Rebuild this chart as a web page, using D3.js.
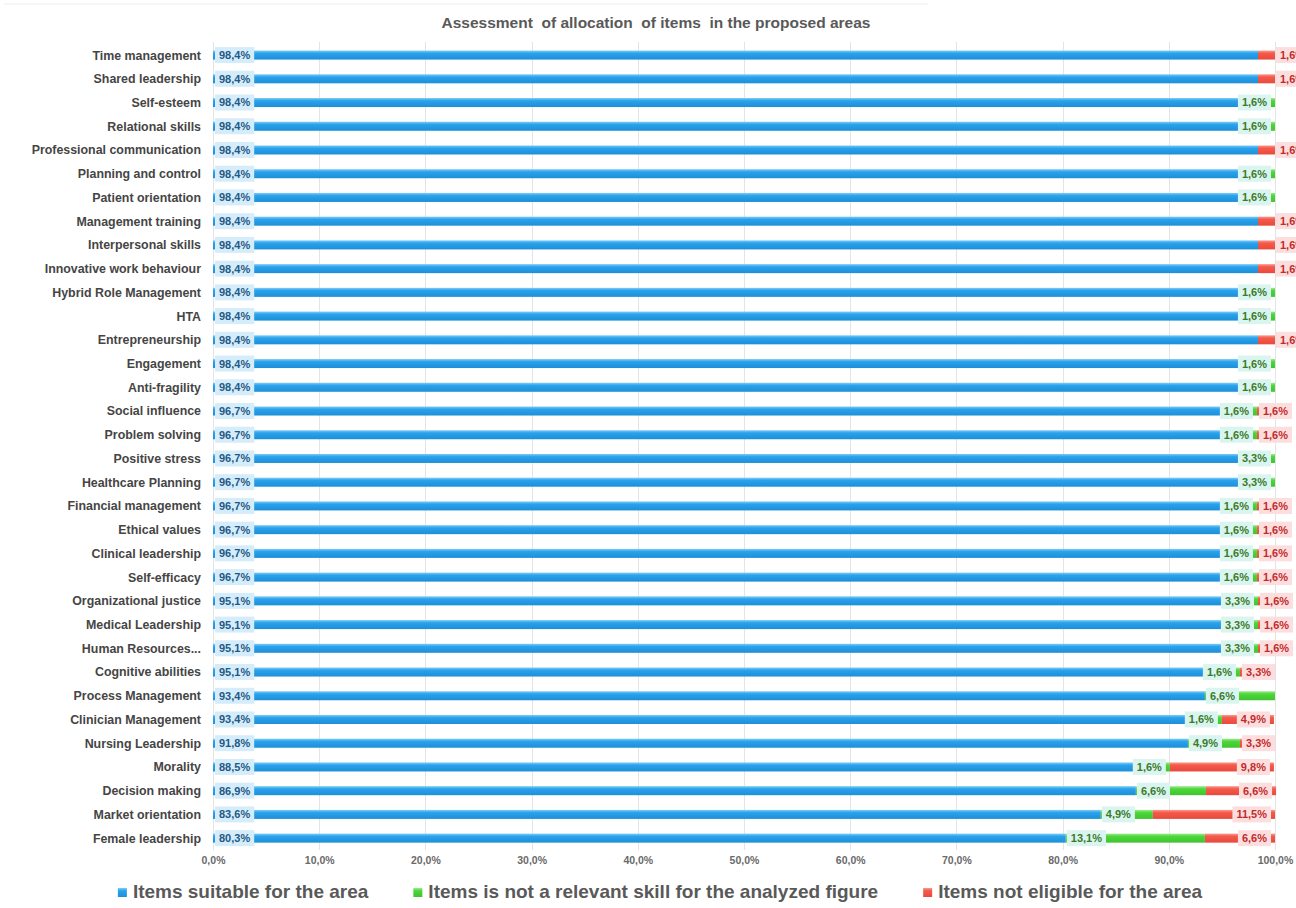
<!DOCTYPE html>
<html>
<head>
<meta charset="utf-8">
<script src="https://cdn.jsdelivr.net/npm/d3@7"></script>
<style>
  html, body { margin: 0; padding: 0; background: #ffffff; }
  svg { display: block; font-family: "Liberation Sans", Arial, sans-serif; }
</style>
</head>
<body>
<svg id="chart" width="1296" height="908"></svg>
<script>
// Areas, listed top to bottom
const categories = [
  "Time management", "Shared leadership", "Self-esteem", "Relational skills",
  "Professional communication", "Planning and control", "Patient orientation",
  "Management training", "Interpersonal skills", "Innovative work behaviour",
  "Hybrid Role Management", "HTA", "Entrepreneurship", "Engagement",
  "Anti-fragility", "Social influence", "Problem solving", "Positive stress",
  "Healthcare Planning", "Financial management", "Ethical values",
  "Clinical leadership", "Self-efficacy", "Organizational justice",
  "Medical Leadership", "Human Resources...", "Cognitive abilities",
  "Process Management", "Clinician Management", "Nursing Leadership",
  "Morality", "Decision making", "Market orientation", "Female leadership"
];

// Share of items (%) per area
const suitable = [
  98.4, 98.4, 98.4, 98.4, 98.4, 98.4, 98.4, 98.4, 98.4, 98.4, 98.4, 98.4, 98.4, 98.4, 98.4,
  96.7, 96.7, 96.7, 96.7, 96.7, 96.7, 96.7, 96.7,
  95.1, 95.1, 95.1, 95.1,
  93.4, 93.4, 91.8, 88.5, 86.9, 83.6, 80.3
];
const notRelevant = [
  0, 0, 1.6, 1.6, 0, 1.6, 1.6, 0, 0, 0, 1.6, 1.6, 0, 1.6, 1.6,
  1.6, 1.6, 3.3, 3.3, 1.6, 1.6, 1.6, 1.6,
  3.3, 3.3, 3.3, 1.6,
  6.6, 1.6, 4.9, 1.6, 6.6, 4.9, 13.1
];
const notEligible = [
  1.6, 1.6, 0, 0, 1.6, 0, 0, 1.6, 1.6, 1.6, 0, 0, 1.6, 0, 0,
  1.6, 1.6, 0, 0, 1.6, 1.6, 1.6, 1.6,
  1.6, 1.6, 1.6, 3.3,
  0, 4.9, 3.3, 9.8, 6.6, 11.5, 6.6
];

const seriesNames = [
  "Items suitable for the area",
  "Items is not a relevant skill for the analyzed figure",
  "Items not eligible for the area"
];
const tickValues = [0, 10, 20, 30, 40, 50, 60, 70, 80, 90, 100];
const chartTitle = "Assessment  of allocation  of items  in the proposed areas";

const keys = ["suitable", "notRelevant", "notEligible"];
const rows = categories.map((c, i) => ({
  category: c,
  suitable: suitable[i],
  notRelevant: notRelevant[i],
  notEligible: notEligible[i]
}));

// Styling per series
const style = {
  suitable:    { top: "#7fcdf7", mid: "#2aa2ec", bot: "#1d8fd8", labelBg: "#d5ecfa", labelFg: "#1f5a86" },
  notRelevant: { top: "#9ced8e", mid: "#4fd63c", bot: "#3fc42d", labelBg: "#daf5ef", labelFg: "#3a7b2b" },
  notEligible: { top: "#fb9a90", mid: "#f45a4b", bot: "#e84a3c", labelBg: "#fcdede", labelFg: "#c42a2c" }
};

const svg = d3.select("#chart");
const width = 1296, height = 908;

const x = d3.scaleLinear().domain([0, 100]).range([213, 1275]);
const y = d3.scaleBand().domain(categories).range([43.2, 850])
  .paddingInner(0.62).paddingOuter(0.31);

const locale = d3.formatLocale({ decimal: ",", thousands: ".", grouping: [3], currency: ["", "€"] });
const fmt1 = locale.format(".1f");
const pct = v => fmt1(v) + "%";

// Gradients giving the bars a light top edge
const defs = svg.append("defs");
keys.forEach(k => {
  const g = defs.append("linearGradient").attr("id", "grad-" + k)
    .attr("x1", 0).attr("y1", 0).attr("x2", 0).attr("y2", 1);
  g.append("stop").attr("offset", "0%").attr("stop-color", style[k].top);
  g.append("stop").attr("offset", "30%").attr("stop-color", style[k].mid);
  g.append("stop").attr("offset", "100%").attr("stop-color", style[k].bot);
});

// Faint frame line at the top
svg.append("line").attr("x1", 4).attr("x2", 928).attr("y1", 4).attr("y2", 4)
  .attr("stroke", "#ededed").attr("stroke-width", 1);

// Title
svg.append("text")
  .attr("x", 656).attr("y", 28)
  .attr("text-anchor", "middle")
  .attr("font-size", 15.5).attr("font-weight", "bold")
  .attr("fill", "#595959")
  .style("white-space", "pre")
  .text(chartTitle);

// Vertical gridlines
svg.append("g").selectAll("line").data(tickValues).join("line")
  .attr("x1", d => Math.round(x(d)) + 0.5).attr("x2", d => Math.round(x(d)) + 0.5)
  .attr("y1", 42).attr("y2", 850)
  .attr("stroke", "#e4e4e4").attr("stroke-width", 1);

// Bottom axis tick labels
const xAxis = d3.axisBottom(x).tickValues(tickValues).tickFormat(pct).tickSize(0).tickPadding(0);
const axisG = svg.append("g").attr("transform", "translate(0,857)").call(xAxis);
axisG.select(".domain").remove();
axisG.selectAll("text")
  .attr("font-size", 10.5).attr("font-weight", "bold")
  .attr("font-family", "Liberation Sans, Arial, sans-serif")
  .attr("fill", "#6a6a6a");

// Category labels
const yAxis = d3.axisLeft(y).tickSize(0).tickPadding(0);
const yAxisG = svg.append("g").attr("transform", "translate(201,0)").call(yAxis);
yAxisG.select(".domain").remove();
yAxisG.selectAll("text")
  .attr("font-size", 12.4).attr("font-weight", "bold")
  .attr("font-family", "Liberation Sans, Arial, sans-serif")
  .attr("fill", "#454545")
  .attr("dy", "0.36em");

// Stacked bars
const stacked = d3.stack().keys(keys)(rows);
const barsG = svg.append("g");
stacked.forEach(layer => {
  barsG.append("g").selectAll("rect").data(layer).join("rect")
    .attr("x", d => x(d[0]))
    .attr("y", d => y(d.data.category))
    .attr("width", d => Math.max(0, x(d[1]) - x(d[0])))
    .attr("height", y.bandwidth())
    .attr("fill", "url(#grad-" + layer.key + ")");
});

// Data labels with filled boxes
const labelsG = svg.append("g");
const boxH = 16;
stacked.forEach(layer => {
  const k = layer.key;
  layer.forEach(d => {
    const v = d.data[k];
    if (!(v > 0)) return;
    const cy = y(d.data.category) + y.bandwidth() / 2;
    const g = labelsG.append("g");
    const rect = g.append("rect").attr("fill", style[k].labelBg);
    const t = g.append("text")
      .attr("font-size", 11).attr("font-weight", "bold")
      .attr("fill", style[k].labelFg)
      .attr("dy", "0.36em")
      .text(pct(v));
    const tw = t.node().getComputedTextLength();
    const w = tw + 8;
    const s = x(d[0]), e = x(d[1]), segW = e - s;
    let bx;
    if (k === "suitable") {
      bx = s + 2;
    } else if (k === "notRelevant") {
      bx = segW >= w + 2 ? s + 1 : e - w - 4;
    } else {
      if (segW >= w + 6) bx = e - w - 4;
      else if (d.data.notRelevant > 0) bx = Math.max(s + 2, e - w - 4);
      else bx = e + 1;
    }
    rect.attr("x", bx).attr("y", cy - boxH / 2).attr("width", w).attr("height", boxH);
    t.attr("x", bx + 4).attr("y", cy);
  });
});

// Legend, laid out left to right
const legendG = svg.append("g");
let lx = 0;
const items = [];
seriesNames.forEach((name, i) => {
  const k = keys[i];
  const g = legendG.append("g");
  g.append("rect").attr("x", lx).attr("y", -10).attr("width", 9).attr("height", 9)
    .attr("fill", "url(#grad-" + k + ")");
  const t = g.append("text").attr("x", lx + 15).attr("y", 0)
    .attr("font-size", 19).attr("font-weight", "bold").attr("fill", "#595959")
    .text(name);
  lx += 15 + t.node().getComputedTextLength() + 45;
});
const legendW = lx - 45;
legendG.attr("transform", `translate(${660 - legendW / 2},898)`);
</script>
</body>
</html>
